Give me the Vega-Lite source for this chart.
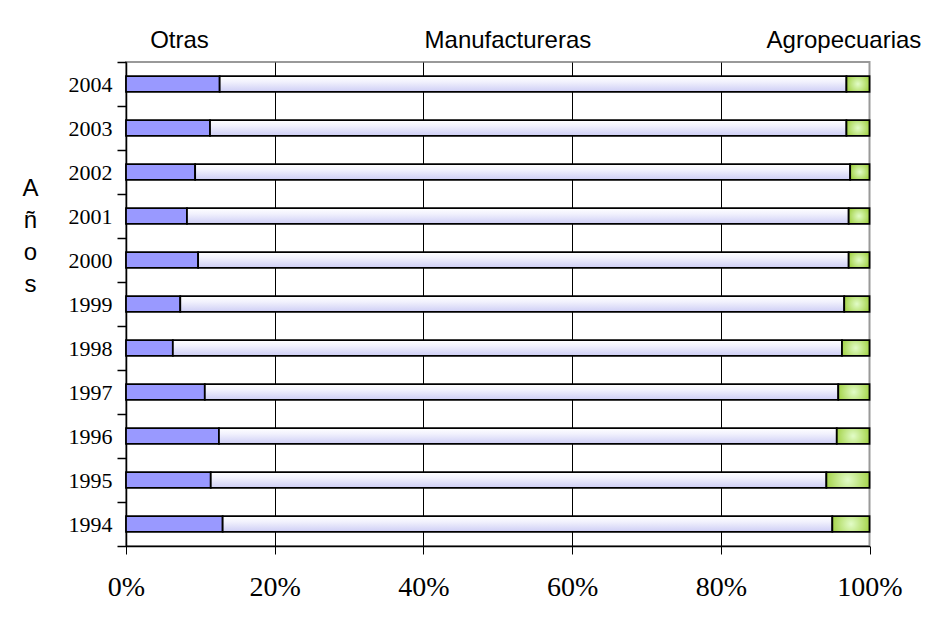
{
  "$schema": "https://vega.github.io/schema/vega-lite/v6.json",
  "width": 743.5,
  "height": 484,
  "autosize": {"type": "none"},
  "padding": {"left": 126, "top": 62, "right": 57.5, "bottom": 76},
  "background": "white",
  "config": {"view": {"stroke": "#999999", "strokeWidth": 2}},
  "data": {
    "values": [
      {"year": "2004", "sector": "Otras", "share": 12.6},
      {"year": "2004", "sector": "Manufactureras", "share": 84.3},
      {"year": "2004", "sector": "Agropecuarias", "share": 3.1},
      {"year": "2003", "sector": "Otras", "share": 11.3},
      {"year": "2003", "sector": "Manufactureras", "share": 85.6},
      {"year": "2003", "sector": "Agropecuarias", "share": 3.1},
      {"year": "2002", "sector": "Otras", "share": 9.3},
      {"year": "2002", "sector": "Manufactureras", "share": 88.1},
      {"year": "2002", "sector": "Agropecuarias", "share": 2.6},
      {"year": "2001", "sector": "Otras", "share": 8.2},
      {"year": "2001", "sector": "Manufactureras", "share": 89.0},
      {"year": "2001", "sector": "Agropecuarias", "share": 2.8},
      {"year": "2000", "sector": "Otras", "share": 9.7},
      {"year": "2000", "sector": "Manufactureras", "share": 87.5},
      {"year": "2000", "sector": "Agropecuarias", "share": 2.8},
      {"year": "1999", "sector": "Otras", "share": 7.3},
      {"year": "1999", "sector": "Manufactureras", "share": 89.3},
      {"year": "1999", "sector": "Agropecuarias", "share": 3.4},
      {"year": "1998", "sector": "Otras", "share": 6.3},
      {"year": "1998", "sector": "Manufactureras", "share": 90.0},
      {"year": "1998", "sector": "Agropecuarias", "share": 3.7},
      {"year": "1997", "sector": "Otras", "share": 10.6},
      {"year": "1997", "sector": "Manufactureras", "share": 85.2},
      {"year": "1997", "sector": "Agropecuarias", "share": 4.2},
      {"year": "1996", "sector": "Otras", "share": 12.5},
      {"year": "1996", "sector": "Manufactureras", "share": 83.1},
      {"year": "1996", "sector": "Agropecuarias", "share": 4.4},
      {"year": "1995", "sector": "Otras", "share": 11.4},
      {"year": "1995", "sector": "Manufactureras", "share": 82.8},
      {"year": "1995", "sector": "Agropecuarias", "share": 5.8},
      {"year": "1994", "sector": "Otras", "share": 13.0},
      {"year": "1994", "sector": "Manufactureras", "share": 82.0},
      {"year": "1994", "sector": "Agropecuarias", "share": 5.0}
    ]
  },
  "transform": [
    {
      "stack": "share",
      "groupby": ["year"],
      "sort": [{"field": "sector", "order": "descending"}],
      "offset": "normalize",
      "as": ["s0", "s1"]
    }
  ],
  "encoding": {
    "y": {
      "field": "year",
      "type": "ordinal",
      "sort": "descending",
      "scale": {"paddingInner": 0, "paddingOuter": 0},
      "axis": {
        "title": ["A", "ñ", "o", "s"],
        "titleAngle": 0,
        "titleFont": "Liberation Sans",
        "titleFontSize": 24,
        "titleFontWeight": "normal",
        "titleLineHeight": 32,
        "titleAlign": "center",
        "titleBaseline": "top",
        "titleX": -96,
        "titleY": 114,
        "titleColor": "black",
        "tickBand": "extent",
        "tickSize": 9,
        "tickColor": "black",
        "tickWidth": 1.5,
        "domainColor": "black",
        "domainWidth": 1.5,
        "labelFont": "Liberation Serif",
        "labelFontSize": 22,
        "labelColor": "black",
        "labelPadding": 5,
        "grid": false
      }
    },
    "x2": {"field": "s1"}
  },
  "layer": [
    {
      "transform": [{"filter": "datum.sector === 'Otras'"}],
      "mark": {"type": "bar", "height": {"band": 0.355}, "fill": "#9999ff", "stroke": "black", "strokeWidth": 1.8},
      "encoding": {
        "x": {
          "field": "s0",
          "type": "quantitative",
          "scale": {"domain": [0, 1], "nice": false},
          "axis": {
            "orient": "bottom",
            "title": null,
            "values": [0, 0.2, 0.4, 0.6, 0.8, 1],
            "format": ".0%",
            "grid": true,
            "gridColor": {"condition": {"test": "datum.value >= 1", "value": "transparent"}, "value": "black"},
            "gridWidth": 1,
            "gridOpacity": 1,
            "tickColor": "black",
            "tickSize": 8,
            "tickWidth": 1,
            "domainColor": "black",
            "domainWidth": 1.5,
            "labelFont": "Liberation Serif",
            "labelFontSize": 28,
            "labelColor": "black",
            "labelPadding": 19,
            "labelFlush": false,
            "labelOverlap": false
          }
        }
      }
    },
    {
      "transform": [{"filter": "datum.sector === 'Manufactureras'"}],
      "mark": {
        "type": "bar",
        "height": {"band": 0.355},
        "stroke": "black",
        "strokeWidth": 1.8,
        "fill": {
          "gradient": "linear",
          "x1": 0, "y1": 0, "x2": 0, "y2": 1,
          "stops": [
            {"offset": 0, "color": "#ffffff"},
            {"offset": 0.35, "color": "#f2f2fd"},
            {"offset": 1, "color": "#ceceF5"}
          ]
        }
      },
      "encoding": {
        "x": {
          "field": "s0",
          "type": "quantitative",
          "axis": {
            "orient": "top",
            "title": null,
            "values": [0.0713, 0.513, 0.965],
            "labelExpr": "datum.value < 0.2 ? 'Otras' : datum.value < 0.8 ? 'Manufactureras' : 'Agropecuarias'",
            "ticks": false,
            "domain": false,
            "grid": false,
            "labelFont": "Liberation Sans",
            "labelFontSize": 24,
            "labelColor": "black",
            "labelPadding": 10,
            "labelFlush": false,
            "labelOverlap": false
          }
        }
      }
    },
    {
      "transform": [{"filter": "datum.sector === 'Agropecuarias'"}],
      "mark": {
        "type": "bar",
        "height": {"band": 0.355},
        "stroke": "black",
        "strokeWidth": 1.8,
        "fill": {
          "gradient": "radial",
          "x1": 0.5, "y1": 0.5, "r1": 0,
          "x2": 0.5, "y2": 0.5, "r2": 0.6,
          "stops": [
            {"offset": 0, "color": "#e2fcc8"},
            {"offset": 1, "color": "#99cc33"}
          ]
        }
      },
      "encoding": {
        "x": {"field": "s0", "type": "quantitative", "axis": null}
      }
    }
  ],
  "resolve": {"axis": {"x": "independent"}}
}
